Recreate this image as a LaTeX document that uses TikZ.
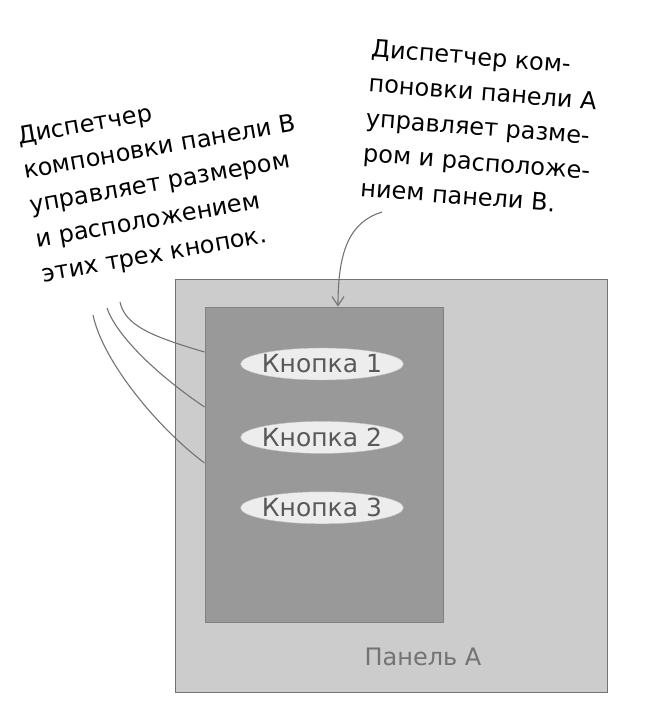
\documentclass[tikz,border=0pt]{standalone}
\usepackage{fontspec}
\setmainfont{DejaVu Sans}
\usetikzlibrary{positioning, arrows.meta, shapes.geometric}

\begin{document}
\begin{tikzpicture}[
        x=1pt, y=-1pt,
        panel/.style={rectangle, draw=black!55, line width=1pt, inner sep=0pt},
        button/.style={ellipse, fill=black!7, draw=black!25, minimum width=163pt, minimum height=32pt, inner sep=0pt, inner xsep=-4pt, text=black!65, font=\fontsize{25}{25}\selectfont},
        note/.style={align=left, inner sep=0pt, font=\fontsize{24}{35}\selectfont},
        pointer/.style={draw=black!55, line width=1.1pt}
    ]
        \useasboundingbox (0,0) rectangle (660,710);

        \node[panel, fill=black!20, minimum width=432pt, minimum height=413pt] (panelA) at (391,485.5) {};
        \node[panel, fill=black!40, draw=black!50, minimum width=238pt, minimum height=315pt] (panelB) at (324,464.5) {};
        \node[button] (btn1) at (322,364) {Кнопка 1};
        \node[button, below=41pt of btn1] (btn2) {Кнопка 2};
        \node[button, below=38pt of btn2] (btn3) {Кнопка 3};
        \node[text=black!55, font=\fontsize{24}{24}\selectfont] (labelA) at (423,657) {Панель А};

        \node[note, rotate=10] (noteB) at (166,183) {Диспетчер\\компоновки панели В\\управляет размером\\и расположением\\этих трех кнопок.};
        \node[note, rotate=-4.5] (noteA) at (480,127) {Диспетчер ком-\\поновки панели А\\управляет разме-\\ром и расположе-\\нием панели В.};

        \coordinate (fromA) at (382,212);
        \coordinate (fromB1) at (120,302);
        \coordinate (fromB2) at (107,308);
        \coordinate (fromB3) at (93,315);

        \draw[pointer, -{Straight Barb[length=9pt, width=12pt]}] (fromA) .. controls (350,222) and (338,250) .. ([xshift=14pt]panelB.north);
        \draw[pointer] (fromB1) .. controls (125,325) and (150,336) .. (panelB.west |- 0,352);
        \draw[pointer] (fromB2) .. controls (115,332) and (150,370) .. (panelB.west |- 0,407);
        \draw[pointer] (fromB3) .. controls (103,362) and (158,428) .. (panelB.west |- 0,463);

    \end{tikzpicture}
\end{document}
